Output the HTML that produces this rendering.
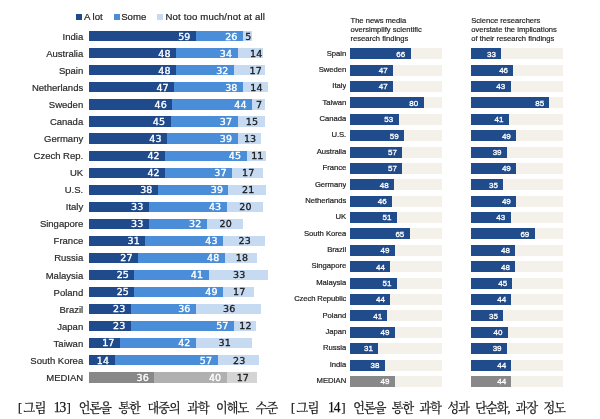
<!DOCTYPE html>
<html lang="ko"><head><meta charset="utf-8"><title>그림 13, 그림 14</title>
<style>
html,body{margin:0;padding:0;background:#fff;}
body{width:600px;height:419px;position:relative;overflow:hidden;font-family:"Liberation Sans",sans-serif;color:#222;filter:blur(0.4px);}
div,span{position:absolute;white-space:nowrap;}
.b{height:10px;}
.d{background:#1f4a8c;}.m{background:#4a8dd8;}.l{background:#c6daf2;}
.gd{background:#888;}.gm{background:#b0b0b0;}.gl{background:#d4d4d4;}
.ll{font-size:9.5px;line-height:10px;text-align:right;width:83.2px;left:0;margin-top:0.6px;-webkit-text-stroke:0.2px #2a2a2a;color:#2a2a2a;}
.v{font-family:"DejaVu Sans",sans-serif;font-size:9.5px;line-height:10px;color:#fff;text-align:right;letter-spacing:0.15px;-webkit-text-stroke:0.35px #fff;}
.t{font-family:"DejaVu Sans",sans-serif;font-size:9.5px;line-height:10px;color:#1c1c1c;text-align:center;width:30px;letter-spacing:0.15px;-webkit-text-stroke:0.3px #1c1c1c;}
.lg{font-size:9.6px;line-height:10px;color:#222;-webkit-text-stroke:0.2px #222;}
.sq{width:5.6px;height:5.2px;top:14.4px;}
.rb{height:11px;background:#214c8b;}
.rbg{height:11px;background:#f3f1ea;}
.rl{font-size:7.7px;line-height:10px;text-align:right;right:0;color:#222;-webkit-text-stroke:0.2px #222;letter-spacing:-0.05px;}
.rc{left:290px;width:56.2px;height:12px;overflow:hidden;}
.rv{font-size:8px;line-height:11px;color:#fff;text-align:right;margin-top:0.35px;-webkit-text-stroke:0.3px #fff;}
.rt{font-size:7.6px;line-height:9.2px;color:#222;white-space:pre;-webkit-text-stroke:0.18px #222;}
.cap{font-family:"Liberation Serif","Noto Serif CJK SC",serif;font-size:13px;line-height:14px;color:#111;top:401.3px;transform:scaleX(0.93);transform-origin:0 0;-webkit-text-stroke:0.25px #111;}
.cap span{position:static;}
</style></head><body>

<div class="sq d" style="left:76.2px"></div><span class="lg" style="left:84px;top:12px">A lot</span>
<div class="sq m" style="left:114px"></div><span class="lg" style="left:121.2px;top:12px">Some</span>
<div class="sq l" style="left:157px"></div><span class="lg" style="left:165.5px;top:12px;letter-spacing:0.15px">Not too much/not at all</span>
<span class="ll" style="top:31.25px">India</span>
<div class="b d" style="top:31.15px;height:10.2px;left:89.2px;width:106.73px"></div>
<div class="b m" style="top:31.15px;height:10.2px;left:195.93px;width:47.03px"></div>
<div class="b l" style="top:31.15px;height:10.2px;left:242.96px;width:9.04px"></div>
<span class="v" style="top:31.55px;left:150.53px;width:40px">59</span>
<span class="v" style="top:31.55px;left:197.56px;width:40px">26</span>
<span class="t" style="top:31.55px;left:233.29px">5</span>
<span class="ll" style="top:48.3px">Australia</span>
<div class="b d" style="top:48.2px;height:10.2px;left:89.2px;width:86.83px"></div>
<div class="b m" style="top:48.2px;height:10.2px;left:176.03px;width:61.51px"></div>
<div class="b l" style="top:48.2px;height:10.2px;left:237.54px;width:25.33px"></div>
<span class="v" style="top:48.6px;left:130.63px;width:40px">48</span>
<span class="v" style="top:48.6px;left:192.14px;width:40px">34</span>
<span class="t" style="top:48.6px;left:241.2px">14</span>
<span class="ll" style="top:65.35px">Spain</span>
<div class="b d" style="top:65.25px;height:10.2px;left:89.2px;width:86.83px"></div>
<div class="b m" style="top:65.25px;height:10.2px;left:176.03px;width:57.89px"></div>
<div class="b l" style="top:65.25px;height:10.2px;left:233.92px;width:30.75px"></div>
<span class="v" style="top:65.65px;left:130.63px;width:40px">48</span>
<span class="v" style="top:65.65px;left:188.52px;width:40px">32</span>
<span class="t" style="top:65.65px;left:240.8px">17</span>
<span class="ll" style="top:82.4px">Netherlands</span>
<div class="b d" style="top:82.3px;height:10.2px;left:89.2px;width:85.02px"></div>
<div class="b m" style="top:82.3px;height:10.2px;left:174.22px;width:68.74px"></div>
<div class="b l" style="top:82.3px;height:10.2px;left:242.97px;width:25.33px"></div>
<span class="v" style="top:82.7px;left:128.82px;width:40px">47</span>
<span class="v" style="top:82.7px;left:197.57px;width:40px">38</span>
<span class="t" style="top:82.7px;left:241.43px">14</span>
<span class="ll" style="top:99.45px">Sweden</span>
<div class="b d" style="top:99.35px;height:10.2px;left:89.2px;width:83.21px"></div>
<div class="b m" style="top:99.35px;height:10.2px;left:172.41px;width:79.6px"></div>
<div class="b l" style="top:99.35px;height:10.2px;left:252.01px;width:12.66px"></div>
<span class="v" style="top:99.75px;left:127.01px;width:40px">46</span>
<span class="v" style="top:99.75px;left:206.61px;width:40px">44</span>
<span class="t" style="top:99.75px;left:244.14px">7</span>
<span class="ll" style="top:116.5px">Canada</span>
<div class="b d" style="top:116.4px;height:10.2px;left:89.2px;width:81.41px"></div>
<div class="b m" style="top:116.4px;height:10.2px;left:170.61px;width:66.93px"></div>
<div class="b l" style="top:116.4px;height:10.2px;left:237.54px;width:27.13px"></div>
<span class="v" style="top:116.8px;left:125.21px;width:40px">45</span>
<span class="v" style="top:116.8px;left:192.14px;width:40px">37</span>
<span class="t" style="top:116.8px;left:236.91px">15</span>
<span class="ll" style="top:133.55px">Germany</span>
<div class="b d" style="top:133.45px;height:10.2px;left:89.2px;width:77.79px"></div>
<div class="b m" style="top:133.45px;height:10.2px;left:166.99px;width:70.55px"></div>
<div class="b l" style="top:133.45px;height:10.2px;left:237.54px;width:23.52px"></div>
<span class="v" style="top:133.85px;left:121.59px;width:40px">43</span>
<span class="v" style="top:133.85px;left:192.14px;width:40px">39</span>
<span class="t" style="top:133.85px;left:235.1px">13</span>
<span class="ll" style="top:150.6px">Czech Rep.</span>
<div class="b d" style="top:150.5px;height:10.2px;left:89.2px;width:75.98px"></div>
<div class="b m" style="top:150.5px;height:10.2px;left:165.18px;width:81.41px"></div>
<div class="b l" style="top:150.5px;height:10.2px;left:246.58px;width:19.9px"></div>
<span class="v" style="top:150.9px;left:119.78px;width:40px">42</span>
<span class="v" style="top:150.9px;left:201.18px;width:40px">45</span>
<span class="t" style="top:150.9px;left:242.33px">11</span>
<span class="ll" style="top:167.65px">UK</span>
<div class="b d" style="top:167.55px;height:10.2px;left:89.2px;width:75.98px"></div>
<div class="b m" style="top:167.55px;height:10.2px;left:165.18px;width:66.93px"></div>
<div class="b l" style="top:167.55px;height:10.2px;left:232.11px;width:30.75px"></div>
<span class="v" style="top:167.95px;left:119.78px;width:40px">42</span>
<span class="v" style="top:167.95px;left:186.71px;width:40px">37</span>
<span class="t" style="top:167.95px;left:233.29px">17</span>
<span class="ll" style="top:184.7px">U.S.</span>
<div class="b d" style="top:184.6px;height:10.2px;left:89.2px;width:68.74px"></div>
<div class="b m" style="top:184.6px;height:10.2px;left:157.94px;width:70.55px"></div>
<div class="b l" style="top:184.6px;height:10.2px;left:228.49px;width:37.99px"></div>
<span class="v" style="top:185px;left:112.54px;width:40px">38</span>
<span class="v" style="top:185px;left:183.09px;width:40px">39</span>
<span class="t" style="top:185px;left:233.29px">21</span>
<span class="ll" style="top:201.75px">Italy</span>
<div class="b d" style="top:201.65px;height:10.2px;left:89.2px;width:59.7px"></div>
<div class="b m" style="top:201.65px;height:10.2px;left:148.9px;width:77.79px"></div>
<div class="b l" style="top:201.65px;height:10.2px;left:226.68px;width:36.18px"></div>
<span class="v" style="top:202.05px;left:103.5px;width:40px">33</span>
<span class="v" style="top:202.05px;left:181.28px;width:40px">43</span>
<span class="t" style="top:202.05px;left:230.57px">20</span>
<span class="ll" style="top:218.8px">Singapore</span>
<div class="b d" style="top:218.7px;height:10.2px;left:89.2px;width:59.7px"></div>
<div class="b m" style="top:218.7px;height:10.2px;left:148.9px;width:57.89px"></div>
<div class="b l" style="top:218.7px;height:10.2px;left:206.78px;width:36.18px"></div>
<span class="v" style="top:219.1px;left:103.5px;width:40px">33</span>
<span class="v" style="top:219.1px;left:161.38px;width:40px">32</span>
<span class="t" style="top:219.1px;left:210.68px">20</span>
<span class="ll" style="top:235.85px">France</span>
<div class="b d" style="top:235.75px;height:10.2px;left:89.2px;width:56.08px"></div>
<div class="b m" style="top:235.75px;height:10.2px;left:145.28px;width:77.79px"></div>
<div class="b l" style="top:235.75px;height:10.2px;left:223.07px;width:41.61px"></div>
<span class="v" style="top:236.15px;left:99.88px;width:40px">31</span>
<span class="v" style="top:236.15px;left:177.67px;width:40px">43</span>
<span class="t" style="top:236.15px;left:229.67px">23</span>
<span class="ll" style="top:252.9px">Russia</span>
<div class="b d" style="top:252.8px;height:10.2px;left:89.2px;width:48.84px"></div>
<div class="b m" style="top:252.8px;height:10.2px;left:138.04px;width:86.83px"></div>
<div class="b l" style="top:252.8px;height:10.2px;left:224.88px;width:32.56px"></div>
<span class="v" style="top:253.2px;left:92.64px;width:40px">27</span>
<span class="v" style="top:253.2px;left:179.47px;width:40px">48</span>
<span class="t" style="top:253.2px;left:226.96px">18</span>
<span class="ll" style="top:269.95px">Malaysia</span>
<div class="b d" style="top:269.85px;height:10.2px;left:89.2px;width:45.23px"></div>
<div class="b m" style="top:269.85px;height:10.2px;left:134.43px;width:74.17px"></div>
<div class="b l" style="top:269.85px;height:10.2px;left:208.59px;width:59.7px"></div>
<span class="v" style="top:270.25px;left:89.03px;width:40px">25</span>
<span class="v" style="top:270.25px;left:163.19px;width:40px">41</span>
<span class="t" style="top:270.25px;left:224.24px">33</span>
<span class="ll" style="top:287px">Poland</span>
<div class="b d" style="top:286.9px;height:10.2px;left:89.2px;width:45.23px"></div>
<div class="b m" style="top:286.9px;height:10.2px;left:134.43px;width:88.64px"></div>
<div class="b l" style="top:286.9px;height:10.2px;left:223.07px;width:30.75px"></div>
<span class="v" style="top:287.3px;left:89.03px;width:40px">25</span>
<span class="v" style="top:287.3px;left:177.67px;width:40px">49</span>
<span class="t" style="top:287.3px;left:224.24px">17</span>
<span class="ll" style="top:304.05px">Brazil</span>
<div class="b d" style="top:303.95px;height:10.2px;left:89.2px;width:41.61px"></div>
<div class="b m" style="top:303.95px;height:10.2px;left:130.81px;width:65.12px"></div>
<div class="b l" style="top:303.95px;height:10.2px;left:195.93px;width:65.12px"></div>
<span class="v" style="top:304.35px;left:85.41px;width:40px">23</span>
<span class="v" style="top:304.35px;left:150.53px;width:40px">36</span>
<span class="t" style="top:304.35px;left:214.29px">36</span>
<span class="ll" style="top:321.1px">Japan</span>
<div class="b d" style="top:321px;height:10.2px;left:89.2px;width:41.61px"></div>
<div class="b m" style="top:321px;height:10.2px;left:130.81px;width:103.11px"></div>
<div class="b l" style="top:321px;height:10.2px;left:233.92px;width:21.71px"></div>
<span class="v" style="top:321.4px;left:85.41px;width:40px">23</span>
<span class="v" style="top:321.4px;left:188.52px;width:40px">57</span>
<span class="t" style="top:321.4px;left:230.57px">12</span>
<span class="ll" style="top:338.15px">Taiwan</span>
<div class="b d" style="top:338.05px;height:10.2px;left:89.2px;width:30.75px"></div>
<div class="b m" style="top:338.05px;height:10.2px;left:119.95px;width:75.98px"></div>
<div class="b l" style="top:338.05px;height:10.2px;left:195.93px;width:56.08px"></div>
<span class="v" style="top:338.45px;left:74.55px;width:40px">17</span>
<span class="v" style="top:338.45px;left:150.53px;width:40px">42</span>
<span class="t" style="top:338.45px;left:209.77px">31</span>
<span class="ll" style="top:355.2px">South Korea</span>
<div class="b d" style="top:355.1px;height:10.2px;left:89.2px;width:25.33px"></div>
<div class="b m" style="top:355.1px;height:10.2px;left:114.53px;width:103.11px"></div>
<div class="b l" style="top:355.1px;height:10.2px;left:217.64px;width:41.61px"></div>
<span class="v" style="top:355.5px;left:69.13px;width:40px">14</span>
<span class="v" style="top:355.5px;left:172.24px;width:40px">57</span>
<span class="t" style="top:355.5px;left:224.24px">23</span>
<span class="ll" style="top:372.4px">MEDIAN</span>
<div class="b gd" style="top:371.8px;height:11.2px;left:89.2px;width:65.12px"></div>
<div class="b gm" style="top:371.8px;height:11.2px;left:154.32px;width:72.36px"></div>
<div class="b gl" style="top:371.8px;height:11.2px;left:226.68px;width:30.75px"></div>
<span class="v" style="top:372.7px;left:108.92px;width:40px">36</span>
<span class="v" style="top:372.7px;left:181.28px;width:40px">40</span>
<span class="t" style="top:372.7px;left:227.86px">17</span>
<span class="rt" style="left:350.5px;top:16px">The news media
oversimplify scientific
research findings</span>
<span class="rt" style="left:471.2px;top:16px">Science researchers
overstate the implications
of their research findings</span>
<div class="rc" style="top:48.5px"><span class="rl">Spain</span></div>
<div class="rbg" style="top:48.3px;left:349.5px;width:92.5px"></div>
<div class="rb" style="top:48.3px;left:349.5px;width:61.05px"></div>
<span class="rv" style="top:48.3px;left:365.25px;width:40px">66</span>
<div class="rbg" style="top:48.3px;left:470.8px;width:92.5px"></div>
<div class="rb" style="top:48.3px;left:470.8px;width:30.53px"></div>
<span class="rv" style="top:48.3px;left:456.02px;width:40px">33</span>
<div class="rc" style="top:64.88px"><span class="rl">Sweden</span></div>
<div class="rbg" style="top:64.68px;left:349.5px;width:92.5px"></div>
<div class="rb" style="top:64.68px;left:349.5px;width:43.48px"></div>
<span class="rv" style="top:64.68px;left:347.68px;width:40px">47</span>
<div class="rbg" style="top:64.68px;left:470.8px;width:92.5px"></div>
<div class="rb" style="top:64.68px;left:470.8px;width:42.55px"></div>
<span class="rv" style="top:64.68px;left:468.05px;width:40px">46</span>
<div class="rc" style="top:81.26px"><span class="rl">Italy</span></div>
<div class="rbg" style="top:81.06px;left:349.5px;width:92.5px"></div>
<div class="rb" style="top:81.06px;left:349.5px;width:43.48px"></div>
<span class="rv" style="top:81.06px;left:347.68px;width:40px">47</span>
<div class="rbg" style="top:81.06px;left:470.8px;width:92.5px"></div>
<div class="rb" style="top:81.06px;left:470.8px;width:39.77px"></div>
<span class="rv" style="top:81.06px;left:465.27px;width:40px">43</span>
<div class="rc" style="top:97.64px"><span class="rl">Taiwan</span></div>
<div class="rbg" style="top:97.44px;left:349.5px;width:92.5px"></div>
<div class="rb" style="top:97.44px;left:349.5px;width:74px"></div>
<span class="rv" style="top:97.44px;left:378.2px;width:40px">80</span>
<div class="rbg" style="top:97.44px;left:470.8px;width:92.5px"></div>
<div class="rb" style="top:97.44px;left:470.8px;width:78.62px"></div>
<span class="rv" style="top:97.44px;left:504.12px;width:40px">85</span>
<div class="rc" style="top:114.02px"><span class="rl">Canada</span></div>
<div class="rbg" style="top:113.82px;left:349.5px;width:92.5px"></div>
<div class="rb" style="top:113.82px;left:349.5px;width:49.03px"></div>
<span class="rv" style="top:113.82px;left:353.22px;width:40px">53</span>
<div class="rbg" style="top:113.82px;left:470.8px;width:92.5px"></div>
<div class="rb" style="top:113.82px;left:470.8px;width:37.93px"></div>
<span class="rv" style="top:113.82px;left:463.43px;width:40px">41</span>
<div class="rc" style="top:130.4px"><span class="rl">U.S.</span></div>
<div class="rbg" style="top:130.2px;left:349.5px;width:92.5px"></div>
<div class="rb" style="top:130.2px;left:349.5px;width:54.58px"></div>
<span class="rv" style="top:130.2px;left:358.77px;width:40px">59</span>
<div class="rbg" style="top:130.2px;left:470.8px;width:92.5px"></div>
<div class="rb" style="top:130.2px;left:470.8px;width:45.33px"></div>
<span class="rv" style="top:130.2px;left:470.82px;width:40px">49</span>
<div class="rc" style="top:146.78px"><span class="rl">Australia</span></div>
<div class="rbg" style="top:146.58px;left:349.5px;width:92.5px"></div>
<div class="rb" style="top:146.58px;left:349.5px;width:52.73px"></div>
<span class="rv" style="top:146.58px;left:356.93px;width:40px">57</span>
<div class="rbg" style="top:146.58px;left:470.8px;width:92.5px"></div>
<div class="rb" style="top:146.58px;left:470.8px;width:36.08px"></div>
<span class="rv" style="top:146.58px;left:461.57px;width:40px">39</span>
<div class="rc" style="top:163.16px"><span class="rl">France</span></div>
<div class="rbg" style="top:162.96px;left:349.5px;width:92.5px"></div>
<div class="rb" style="top:162.96px;left:349.5px;width:52.73px"></div>
<span class="rv" style="top:162.96px;left:356.93px;width:40px">57</span>
<div class="rbg" style="top:162.96px;left:470.8px;width:92.5px"></div>
<div class="rb" style="top:162.96px;left:470.8px;width:45.33px"></div>
<span class="rv" style="top:162.96px;left:470.82px;width:40px">49</span>
<div class="rc" style="top:179.54px"><span class="rl">Germany</span></div>
<div class="rbg" style="top:179.34px;left:349.5px;width:92.5px"></div>
<div class="rb" style="top:179.34px;left:349.5px;width:44.4px"></div>
<span class="rv" style="top:179.34px;left:348.6px;width:40px">48</span>
<div class="rbg" style="top:179.34px;left:470.8px;width:92.5px"></div>
<div class="rb" style="top:179.34px;left:470.8px;width:32.38px"></div>
<span class="rv" style="top:179.34px;left:457.88px;width:40px">35</span>
<div class="rc" style="top:195.92px"><span class="rl">Netherlands</span></div>
<div class="rbg" style="top:195.72px;left:349.5px;width:92.5px"></div>
<div class="rb" style="top:195.72px;left:349.5px;width:42.55px"></div>
<span class="rv" style="top:195.72px;left:346.75px;width:40px">46</span>
<div class="rbg" style="top:195.72px;left:470.8px;width:92.5px"></div>
<div class="rb" style="top:195.72px;left:470.8px;width:45.33px"></div>
<span class="rv" style="top:195.72px;left:470.82px;width:40px">49</span>
<div class="rc" style="top:212.3px"><span class="rl">UK</span></div>
<div class="rbg" style="top:212.1px;left:349.5px;width:92.5px"></div>
<div class="rb" style="top:212.1px;left:349.5px;width:47.18px"></div>
<span class="rv" style="top:212.1px;left:351.38px;width:40px">51</span>
<div class="rbg" style="top:212.1px;left:470.8px;width:92.5px"></div>
<div class="rb" style="top:212.1px;left:470.8px;width:39.77px"></div>
<span class="rv" style="top:212.1px;left:465.27px;width:40px">43</span>
<div class="rc" style="top:228.68px"><span class="rl">South Korea</span></div>
<div class="rbg" style="top:228.48px;left:349.5px;width:92.5px"></div>
<div class="rb" style="top:228.48px;left:349.5px;width:60.12px"></div>
<span class="rv" style="top:228.48px;left:364.32px;width:40px">65</span>
<div class="rbg" style="top:228.48px;left:470.8px;width:92.5px"></div>
<div class="rb" style="top:228.48px;left:470.8px;width:63.83px"></div>
<span class="rv" style="top:228.48px;left:489.33px;width:40px">69</span>
<div class="rc" style="top:245.06px"><span class="rl">Brazil</span></div>
<div class="rbg" style="top:244.86px;left:349.5px;width:92.5px"></div>
<div class="rb" style="top:244.86px;left:349.5px;width:45.33px"></div>
<span class="rv" style="top:244.86px;left:349.52px;width:40px">49</span>
<div class="rbg" style="top:244.86px;left:470.8px;width:92.5px"></div>
<div class="rb" style="top:244.86px;left:470.8px;width:44.4px"></div>
<span class="rv" style="top:244.86px;left:469.9px;width:40px">48</span>
<div class="rc" style="top:261.44px"><span class="rl">Singapore</span></div>
<div class="rbg" style="top:261.24px;left:349.5px;width:92.5px"></div>
<div class="rb" style="top:261.24px;left:349.5px;width:40.7px"></div>
<span class="rv" style="top:261.24px;left:344.9px;width:40px">44</span>
<div class="rbg" style="top:261.24px;left:470.8px;width:92.5px"></div>
<div class="rb" style="top:261.24px;left:470.8px;width:44.4px"></div>
<span class="rv" style="top:261.24px;left:469.9px;width:40px">48</span>
<div class="rc" style="top:277.82px"><span class="rl">Malaysia</span></div>
<div class="rbg" style="top:277.62px;left:349.5px;width:92.5px"></div>
<div class="rb" style="top:277.62px;left:349.5px;width:47.18px"></div>
<span class="rv" style="top:277.62px;left:351.38px;width:40px">51</span>
<div class="rbg" style="top:277.62px;left:470.8px;width:92.5px"></div>
<div class="rb" style="top:277.62px;left:470.8px;width:41.62px"></div>
<span class="rv" style="top:277.62px;left:467.12px;width:40px">45</span>
<div class="rc" style="top:294.2px"><span class="rl" style="letter-spacing:-0.13px">Czech Republic</span></div>
<div class="rbg" style="top:294px;left:349.5px;width:92.5px"></div>
<div class="rb" style="top:294px;left:349.5px;width:40.7px"></div>
<span class="rv" style="top:294px;left:344.9px;width:40px">44</span>
<div class="rbg" style="top:294px;left:470.8px;width:92.5px"></div>
<div class="rb" style="top:294px;left:470.8px;width:40.7px"></div>
<span class="rv" style="top:294px;left:466.2px;width:40px">44</span>
<div class="rc" style="top:310.58px"><span class="rl">Poland</span></div>
<div class="rbg" style="top:310.38px;left:349.5px;width:92.5px"></div>
<div class="rb" style="top:310.38px;left:349.5px;width:37.93px"></div>
<span class="rv" style="top:310.38px;left:342.12px;width:40px">41</span>
<div class="rbg" style="top:310.38px;left:470.8px;width:92.5px"></div>
<div class="rb" style="top:310.38px;left:470.8px;width:32.38px"></div>
<span class="rv" style="top:310.38px;left:457.88px;width:40px">35</span>
<div class="rc" style="top:326.96px"><span class="rl">Japan</span></div>
<div class="rbg" style="top:326.76px;left:349.5px;width:92.5px"></div>
<div class="rb" style="top:326.76px;left:349.5px;width:45.33px"></div>
<span class="rv" style="top:326.76px;left:349.52px;width:40px">49</span>
<div class="rbg" style="top:326.76px;left:470.8px;width:92.5px"></div>
<div class="rb" style="top:326.76px;left:470.8px;width:37px"></div>
<span class="rv" style="top:326.76px;left:462.5px;width:40px">40</span>
<div class="rc" style="top:343.34px"><span class="rl">Russia</span></div>
<div class="rbg" style="top:343.14px;left:349.5px;width:92.5px"></div>
<div class="rb" style="top:343.14px;left:349.5px;width:28.68px"></div>
<span class="rv" style="top:343.14px;left:332.88px;width:40px">31</span>
<div class="rbg" style="top:343.14px;left:470.8px;width:92.5px"></div>
<div class="rb" style="top:343.14px;left:470.8px;width:36.08px"></div>
<span class="rv" style="top:343.14px;left:461.57px;width:40px">39</span>
<div class="rc" style="top:359.72px"><span class="rl">India</span></div>
<div class="rbg" style="top:359.52px;left:349.5px;width:92.5px"></div>
<div class="rb" style="top:359.52px;left:349.5px;width:35.15px"></div>
<span class="rv" style="top:359.52px;left:339.35px;width:40px">38</span>
<div class="rbg" style="top:359.52px;left:470.8px;width:92.5px"></div>
<div class="rb" style="top:359.52px;left:470.8px;width:40.7px"></div>
<span class="rv" style="top:359.52px;left:466.2px;width:40px">44</span>
<div class="rc" style="top:376.1px"><span class="rl">MEDIAN</span></div>
<div class="rbg" style="top:375.9px;left:349.5px;width:92.5px"></div>
<div class="rb" style="top:375.9px;left:349.5px;width:45.33px;background:#888"></div>
<span class="rv" style="top:375.9px;left:349.52px;width:40px">49</span>
<div class="rbg" style="top:375.9px;left:470.8px;width:92.5px"></div>
<div class="rb" style="top:375.9px;left:470.8px;width:40.7px;background:#888"></div>
<span class="rv" style="top:375.9px;left:466.2px;width:40px">44</span>
<div class="cap" style="left:18px;word-spacing:5.7px"><span style="letter-spacing:-0.3px;word-spacing:5.2px">[<span style="margin-left:1.8px">그림</span> <span style="font-size:14.5px;letter-spacing:-1.1px;line-height:10px">13</span><span style="margin-left:1.6px">]</span></span> <span style="letter-spacing:-1px;word-spacing:5.75px">언론을 통한 대중의 과학 이해도 수준</span></div>
<div class="cap" style="left:290.7px;word-spacing:5.5px"><span style="letter-spacing:-0.3px;word-spacing:6.5px">[<span style="margin-left:1.8px">그림</span> <span style="font-size:14.5px;letter-spacing:-1.1px;line-height:10px">14</span><span style="margin-left:2.1px">]</span></span> <span style="letter-spacing:-1px;word-spacing:4.5px">언론을 통한 과학 성과 단순화, 과장 정도</span></div>
</body></html>
